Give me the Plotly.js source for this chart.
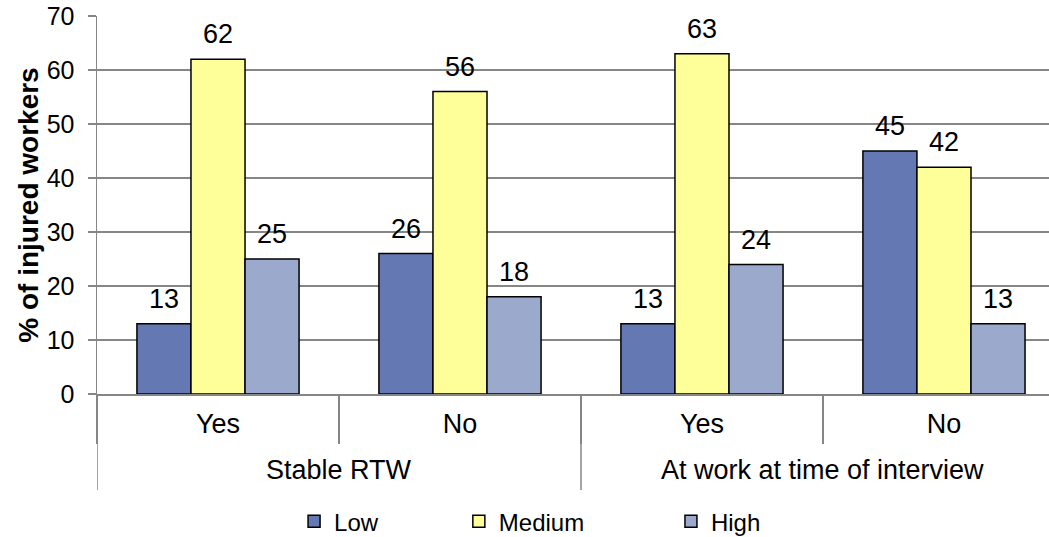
<!DOCTYPE html>
<html>
<head>
<meta charset="utf-8">
<script src="https://cdn.plot.ly/plotly-3.0.1.min.js"></script>
<style>html,body{margin:0;padding:0;background:#fff;}#chart{width:1049px;height:537px;}</style>
</head>
<body>
<div id="chart"></div>
<script>
const groups = ["Stable RTW", "Stable RTW", "At work at time of interview", "At work at time of interview"];
const answers = ["Yes", "No", "Yes", "No"];
const seriesNames = ["Low", "Medium", "High"];
const lowValues = [13, 26, 13, 45];
const mediumValues = [62, 56, 63, 42];
const highValues = [25, 18, 24, 13];
const yTicks = [0, 10, 20, 30, 40, 50, 60, 70];
const yTitle = "% of injured workers";

const colors = ["#6479B4", "#FFFF99", "#9AA9CC"];
const legendIds = ["legend", "legend2", "legend3"];
const font = "Liberation Sans, Arial, sans-serif";
const gray = "#868686";
const allValues = [lowValues, mediumValues, highValues];

// unique category keys (group + answer), labelled by the answer
const xKeys = groups.map((g, i) => g + " | " + answers[i]);

const bars = seriesNames.map((name, i) => ({
  type: "bar",
  name: name,
  x: xKeys,
  y: allValues[i],
  offsetgroup: name,
  marker: { color: colors[i], line: { color: "#000", width: 1.5 } },
  legend: legendIds[i],
  hoverinfo: "skip"
}));

const labels = seriesNames.map((name, i) => ({
  type: "scatter",
  mode: "markers+text",
  x: xKeys,
  y: allValues[i],
  offsetgroup: name,
  text: allValues[i].map(String),
  textposition: "top center",
  textfont: { size: 27, color: "#000", family: font },
  marker: { size: 13, opacity: 0, color: colors[i] },
  cliponaxis: false,
  showlegend: false,
  hoverinfo: "skip"
}));

// group labels and group dividers derived from the groups array
const uniqueGroups = [...new Set(groups)];
const annotations = uniqueGroups.map(g => {
  const idx = groups.map((v, i) => v === g ? i : -1).filter(i => i >= 0);
  const mid = idx.reduce((a, b) => a + b, 0) / idx.length;
  return { text: g, xref: "x", yref: "paper", x: mid, y: -0.201, yanchor: "middle",
    showarrow: false, font: { size: 27, color: "#000", family: font } };
});
const shapes = uniqueGroups.map(g => {
  const start = groups.indexOf(g) - 0.5;
  return { type: "line", xref: "x", yref: "paper", x0: start, x1: start, y0: 0, y1: -0.254,
    line: { color: gray, width: 1.5 } };
});

const legendBase = { orientation: "h", yanchor: "middle", y: -0.338, xanchor: "left",
  font: { size: 24, color: "#000", family: font }, bgcolor: "rgba(0,0,0,0)" };

const layout = {
  width: 1049, height: 537,
  margin: { l: 97, r: 0, t: 16, b: 143, autoexpand: false },
  paper_bgcolor: "#fff", plot_bgcolor: "#fff",
  font: { family: font, size: 24, color: "#000" },
  barmode: "group", bargap: 0.33, bargroupgap: 0,
  scattermode: "group", scattergap: 0.33,
  showlegend: true,
  legend: Object.assign({}, legendBase, { x: 0.2070 }),
  legend2: Object.assign({}, legendBase, { x: 0.3801 }),
  legend3: Object.assign({}, legendBase, { x: 0.6029 }),
  annotations: annotations,
  shapes: shapes,
  xaxis: {
    type: "category",
    range: [-0.5, 3.434],
    tickvals: xKeys, ticktext: answers,
    tickson: "boundaries",
    showline: true, linecolor: gray, linewidth: 1.5,
    ticks: "outside", ticklen: 48, tickcolor: gray, tickwidth: 1.5,
    ticklabelstandoff: 5,
    tickfont: { size: 27, color: "#000", family: font },
    showgrid: false, zeroline: false
  },
  yaxis: {
    range: [0, 70], tickvals: yTicks, ticktext: yTicks.map(String),
    showline: true, linecolor: gray, linewidth: 1.5,
    ticks: "outside", ticklen: 8, tickcolor: gray, tickwidth: 1.5,
    showgrid: true, gridcolor: gray, gridwidth: 1.5,
    zeroline: false,
    ticklabelstandoff: 8,
    tickfont: { size: 25, color: "#000", family: font },
    title: { text: "<b>" + yTitle + "</b>", font: { size: 28, color: "#000", family: font }, standoff: 0 },
    automargin: false
  }
};

Plotly.newPlot("chart", bars.concat(labels), layout, { staticPlot: true, displayModeBar: false });
</script>
</body>
</html>
